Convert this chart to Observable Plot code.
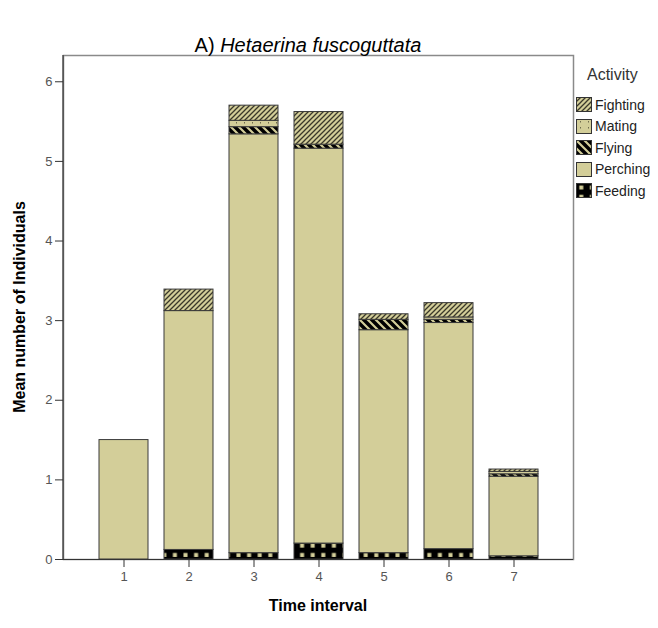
<!DOCTYPE html>
<html>
<head>
<meta charset="utf-8">
<script src="https://cdn.jsdelivr.net/npm/d3@7"></script>
<script src="https://cdn.jsdelivr.net/npm/@observablehq/plot@0.6"></script>
<style>
  html, body { margin: 0; padding: 0; background: #fff; }
  #wrap { position: relative; width: 658px; height: 628px; font-family: "Liberation Sans", Arial, sans-serif; overflow: hidden; }
  #title { position: absolute; left: 0; width: 616px; top: 34px; text-align: center; font-size: 20px; color: #000; }
  #ylab { position: absolute; left: 20px; top: 307px; transform: translate(-50%, -50%) rotate(-90deg); font-size: 16px; font-weight: bold; white-space: nowrap; color: #000; }
  #xlab { position: absolute; left: 0; width: 636px; top: 597px; text-align: center; font-size: 16px; font-weight: bold; color: #000; }
  #legend { position: absolute; left: 576px; top: 66px; font-size: 14px; color: #222; }
  #legend .lt { font-size: 16px; margin-left: 11px; margin-bottom: 10px; color: #333; }
  #legend .row { display: flex; align-items: center; height: 21.5px; }
  #legend svg { margin-right: 3px; }
</style>
</head>
<body>
<div id="wrap">
  <svg width="0" height="0" style="position:absolute">
    <defs>
      <pattern id="pat-Fighting" patternUnits="userSpaceOnUse" width="5" height="5">
        <rect width="5" height="5" fill="#d3ce99"></rect>
        <path d="M-1,1 L1,-1 M0,5 L5,0 M4,6 L6,4" stroke="#3a382a" stroke-width="1.3"></path>
      </pattern>
      <pattern id="pat-Mating" patternUnits="userSpaceOnUse" width="8" height="6">
        <rect width="8" height="6" fill="#d3ce99"></rect>
        <rect x="4" y="2" width="1" height="1.5" fill="#6e6a4c"></rect>
      </pattern>
      <pattern id="pat-Flying" patternUnits="userSpaceOnUse" width="8" height="8">
        <rect width="8" height="8" fill="#000"></rect>
        <path d="M-2,-2 L10,10 M-2,6 L2,10 M6,-2 L10,2" stroke="#d3ce99" stroke-width="2.2"></path>
      </pattern>
      <pattern id="pat-Perching" patternUnits="userSpaceOnUse" width="8" height="8">
        <rect width="8" height="8" fill="#d3ce99"></rect>
      </pattern>
      <pattern id="pat-Feeding" patternUnits="userSpaceOnUse" width="10.6" height="9.33">
        <rect width="10.6" height="9.33" fill="#000"></rect>
        <rect x="3.3" y="2.5" width="4" height="4" fill="#d3ce99"></rect>
      </pattern>
    </defs>
  </svg>
  <div id="title">A) <i>Hetaerina fuscoguttata</i></div>
  <div id="chart"></div>
  <div id="ylab">Mean number of Individuals</div>
  <div id="xlab">Time interval</div>
  <div id="legend"></div>
</div>
<script>
// ---- data ----
const intervals = ["1", "2", "3", "4", "5", "6", "7"];
const activities = ["Feeding", "Perching", "Flying", "Mating", "Fighting"]; // stacking order bottom -> top
const legendOrder = ["Fighting", "Mating", "Flying", "Perching", "Feeding"];
const feeding  = [0, 0.12, 0.08, 0.20, 0.08, 0.13, 0.04];
const perching = [1.50, 3.00, 5.26, 4.96, 2.80, 2.84, 1.00];
const flying   = [0, 0, 0.09, 0.05, 0.13, 0.04, 0.03];
const mating   = [0, 0, 0.08, 0, 0, 0.03, 0.03];
const fighting = [0, 0.27, 0.19, 0.41, 0.07, 0.18, 0.03];
const yTicks = [0, 1, 2, 3, 4, 5, 6];

const series = {Feeding: feeding, Perching: perching, Flying: flying, Mating: mating, Fighting: fighting};
const rows = [];
intervals.forEach((t, i) => {
  activities.forEach(a => {
    const v = series[a][i];
    if (v > 0) rows.push({interval: t, activity: a, value: v});
  });
});

const patUrl = a => `url(#pat-${a})`;

const chart = Plot.plot({
  width: 658,
  height: 628,
  marginTop: 55,
  marginLeft: 63,
  marginRight: 85,
  marginBottom: 69,
  style: {fontFamily: "'Liberation Sans', Arial, sans-serif", background: "transparent"},
  x: {domain: intervals, paddingInner: 0.25, paddingOuter: 0.52, label: null},
  y: {domain: [0, 6.33], label: null},
  color: {type: "ordinal", domain: activities, range: activities.map(patUrl)},
  marks: [
    Plot.frame({stroke: "#8a8a8a", strokeWidth: 1.5}),
    Plot.barY(rows, {x: "interval", y: "value", z: "activity", fill: "activity", stroke: "#3a3a3a", strokeWidth: 1}),
    Plot.ruleY([0], {stroke: "#333", strokeWidth: 1.2}),
    Plot.axisY({ticks: yTicks, tickFormat: d3.format("d"), tickSize: 8, tickPadding: 3, fontSize: 13, color: "#555", stroke: "#333", label: null}),
    Plot.axisX({tickSize: 8, tickPadding: 4, fontSize: 13, color: "#555", stroke: "#333", label: null})
  ]
});
document.getElementById("chart").appendChild(chart);

// left axis line in dark
d3.select(chart).append("line")
  .attr("x1", 63).attr("x2", 63).attr("y1", 55).attr("y2", 559)
  .attr("stroke", "#333").attr("stroke-width", 1.2);

// legend
const lg = d3.select("#legend");
lg.append("div").attr("class", "lt").text("Activity");
legendOrder.forEach(a => {
  const r = lg.append("div").attr("class", "row");
  const s = r.append("svg").attr("width", 16).attr("height", 15);
  s.append("rect").attr("x", 0.5).attr("y", 0.5).attr("width", 15).attr("height", 14)
    .attr("fill", patUrl(a)).attr("stroke", "#333").attr("stroke-width", 1);
  r.append("span").text(a);
});
</script>
</body>
</html>
